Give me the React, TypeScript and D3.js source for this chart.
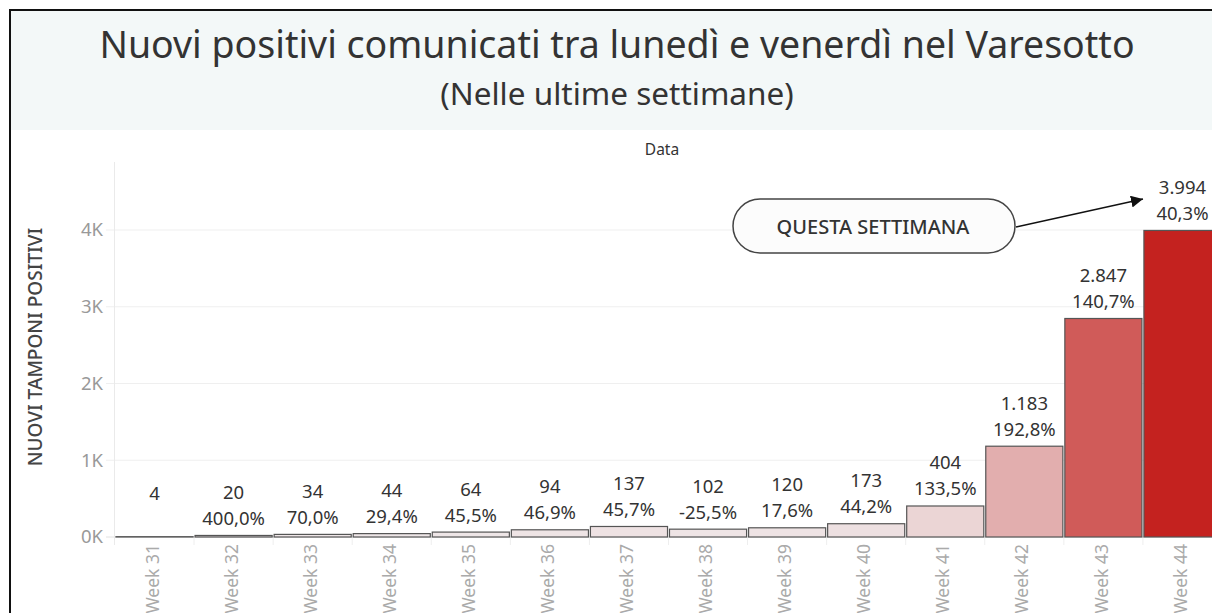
import * as d3 from "d3";
import { useRef, useEffect } from "react";

const WIDTH = 1212;
const HEIGHT = 613;

const weeks = [
  "Week 31", "Week 32", "Week 33", "Week 34", "Week 35", "Week 36", "Week 37",
  "Week 38", "Week 39", "Week 40", "Week 41", "Week 42", "Week 43", "Week 44",
];
const positives = [4, 20, 34, 44, 64, 94, 137, 102, 120, 173, 404, 1183, 2847, 3994];
const changeLabels = [
  "", "400,0%", "70,0%", "29,4%", "45,5%", "46,9%", "45,7%",
  "-25,5%", "17,6%", "44,2%", "133,5%", "192,8%", "140,7%", "40,3%",
];
const yTicks = [0, 1000, 2000, 3000, 4000];

const FONT = "'Noto Sans', 'Open Sans', sans-serif";

export default function App() {
  const svgRef = useRef(null);

  useEffect(() => {
    const svg = d3.select(svgRef.current);
    svg.selectAll("*").remove(); // Clear previous render

    const itFmt = d3.formatLocale({
      decimal: ",",
      thousands: ".",
      grouping: [3],
      currency: ["€", ""],
    }).format(",d");

    const x = d3
      .scaleBand()
      .domain(weeks)
      .range([115, 1222])
      .paddingInner(0.025)
      .paddingOuter(0.0125);

    const y = d3.scaleLinear().domain([0, 4000]).range([537, 230]);

    const color = d3
      .scaleLinear<string>()
      .domain([0, 3994])
      .range(["#efe9ea", "#c4221f"]);

    // frame + title band
    svg.append("rect")
      .attr("x", 10).attr("y", 11).attr("width", WIDTH).attr("height", 119)
      .attr("fill", "#f3f8f8");
    svg.append("line")
      .attr("x1", 9).attr("x2", WIDTH).attr("y1", 10).attr("y2", 10)
      .attr("stroke", "#111").attr("stroke-width", 2);
    svg.append("line")
      .attr("x1", 10).attr("x2", 10).attr("y1", 9).attr("y2", HEIGHT)
      .attr("stroke", "#111").attr("stroke-width", 2);

    svg.append("text")
      .attr("x", 617).attr("y", 58)
      .attr("text-anchor", "middle")
      .style("font-family", FONT).style("font-size", "37.5px").attr("fill", "#333")
      .text("Nuovi positivi comunicati tra lunedì e venerdì nel Varesotto");
    svg.append("text")
      .attr("x", 617).attr("y", 105)
      .attr("text-anchor", "middle")
      .style("font-family", FONT).style("font-size", "31.5px").attr("fill", "#333")
      .text("(Nelle ultime settimane)");

    svg.append("text")
      .attr("x", 662).attr("y", 155)
      .attr("text-anchor", "middle")
      .style("font-family", FONT).style("font-size", "15.5px").attr("fill", "#333")
      .text("Data");

    // gridlines + y ticks
    const g = svg.append("g");
    g.selectAll(".grid")
      .data(yTicks)
      .enter()
      .append("line")
      .attr("x1", 106).attr("x2", WIDTH)
      .attr("y1", (d) => y(d)).attr("y2", (d) => y(d))
      .attr("stroke", (d) => (d === 0 ? "#e2e2e2" : "#efefef"))
      .attr("stroke-width", 1);
    g.selectAll(".ytick")
      .data(yTicks)
      .enter()
      .append("text")
      .attr("x", 103).attr("y", (d) => y(d))
      .attr("dy", "0.35em")
      .attr("text-anchor", "end")
      .style("font-family", FONT).style("font-size", "18.5px").attr("fill", "#999")
      .text((d) => `${d / 1000}K`);

    // axis line
    svg.append("line")
      .attr("x1", 114.5).attr("x2", 114.5).attr("y1", 162).attr("y2", 545)
      .attr("stroke", "#eaeaea");

    // band separators in the x-axis area
    svg.selectAll(".sep")
      .data(weeks.slice(1))
      .enter()
      .append("line")
      .attr("x1", (d) => x(d) - 1).attr("x2", (d) => x(d) - 1)
      .attr("y1", 537).attr("y2", 545)
      .attr("stroke", "#eeeeee");

    // y title
    svg.append("text")
      .attr("transform", "translate(35,347) rotate(-90)")
      .attr("dy", "0.35em")
      .attr("text-anchor", "middle")
      .style("font-family", FONT).style("font-size", "19px").style("font-weight", 500)
      .attr("fill", "#444")
      .text("NUOVI TAMPONI POSITIVI");

    // Bars
    svg.selectAll(".bar")
      .data(weeks)
      .enter()
      .append("rect")
      .attr("x", (d) => x(d))
      .attr("y", (_, i) => y(positives[i]))
      .attr("width", x.bandwidth())
      .attr("height", (_, i) => y(0) - y(positives[i]))
      .attr("fill", (_, i) => color(positives[i]))
      .attr("stroke", "#555")
      .attr("stroke-width", 1.2);

    // value labels
    const lbl = svg.selectAll(".lbl").data(weeks).enter().append("g");
    lbl.append("text")
      .attr("x", (d) => x(d) + x.bandwidth() / 2)
      .attr("y", (_, i) => y(positives[i]) - 43)
      .attr("dy", "0.35em")
      .attr("text-anchor", "middle")
      .style("font-family", FONT).style("font-size", "18.5px").attr("fill", "#333")
      .text((_, i) => itFmt(positives[i]));
    lbl.append("text")
      .attr("x", (d) => x(d) + x.bandwidth() / 2)
      .attr("y", (_, i) => y(positives[i]) - 17)
      .attr("dy", "0.35em")
      .attr("text-anchor", "middle")
      .style("font-family", FONT).style("font-size", "18.5px").attr("fill", "#333")
      .text((_, i) => changeLabels[i]);

    // x labels
    svg.selectAll(".xl")
      .data(weeks)
      .enter()
      .append("text")
      .attr("transform", (d) => `translate(${x(d) + x.bandwidth() / 2 - 2},544) rotate(-90)`)
      .attr("dy", "0.35em")
      .attr("text-anchor", "end")
      .style("font-family", FONT).style("font-size", "17.5px").attr("fill", "#aaa")
      .text((d) => d);

    // annotation
    svg.append("defs")
      .append("marker")
      .attr("id", "arrow")
      .attr("viewBox", "0 0 10 10")
      .attr("refX", 10).attr("refY", 5)
      .attr("markerWidth", 8).attr("markerHeight", 8)
      .attr("orient", "auto")
      .append("path")
      .attr("d", "M0,0L10,5L0,10Z")
      .attr("fill", "#111");
    svg.append("line")
      .attr("x1", 1016).attr("y1", 227).attr("x2", 1143).attr("y2", 199)
      .attr("stroke", "#111").attr("stroke-width", 1.5)
      .attr("marker-end", "url(#arrow)");
    svg.append("rect")
      .attr("x", 733).attr("y", 199).attr("width", 282).attr("height", 54)
      .attr("rx", 27)
      .attr("fill", "#fcfcfc").attr("stroke", "#444").attr("stroke-width", 1.5);
    svg.append("text")
      .attr("x", 873).attr("y", 227)
      .attr("dy", "0.35em")
      .attr("text-anchor", "middle")
      .style("font-family", FONT).style("font-size", "20px").style("font-weight", 500)
      .attr("fill", "#333")
      .text("QUESTA SETTIMANA");
  }, []);

  return (
    <svg
      ref={svgRef}
      width={WIDTH}
      height={HEIGHT}
      style={{ position: "absolute", left: 0, top: 0, background: "#fff" }}
    />
  );
}
